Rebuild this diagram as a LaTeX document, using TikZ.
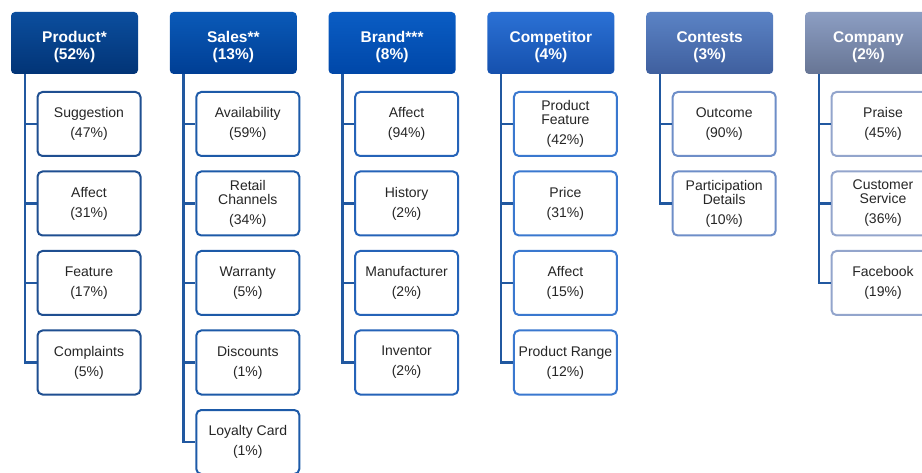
\documentclass[tikz,border=0pt]{standalone}
\usepackage{fontspec}
\setmainfont{Liberation Sans}
\newcommand{\headstrut}{\rule{0pt}{20pt}}
\begin{document}
\begin{tikzpicture}[x=1pt,y=-1pt,
  head/.style={rounded corners=4pt, minimum width=127pt, minimum height=62pt,
    inner sep=0pt, align=center, text=white,
    font=\bfseries\fontsize{15.5}{17}\selectfont},
  leaf/.style={draw, line width=2pt, rounded corners=5pt, fill=white,
    minimum width=103pt, minimum height=64pt, inner sep=0pt, align=center,
    text=black!85, font=\fontsize{14}{14}\selectfont},
  conn/.style={draw=linkblue, line width=2.4pt}]
\definecolor{linkblue}{HTML}{2158A0}
\definecolor{pTop}{HTML}{0B4E9E}\definecolor{pBot}{HTML}{023476}
\definecolor{sTop}{HTML}{0A5AB8}\definecolor{sBot}{HTML}{003E94}
\definecolor{bTop}{HTML}{0A5DC4}\definecolor{bBot}{HTML}{0047A8}
\definecolor{cTop}{HTML}{2B71D5}\definecolor{cBot}{HTML}{1550AD}
\definecolor{tTop}{HTML}{5B83C5}\definecolor{tBot}{HTML}{3F5F9E}
\definecolor{yTop}{HTML}{8C9EC3}\definecolor{yBot}{HTML}{677594}
\definecolor{pEdge}{HTML}{1F4F91}
\definecolor{sEdge}{HTML}{1D5AA8}
\definecolor{bEdge}{HTML}{2563B8}
\definecolor{cEdge}{HTML}{3A78CF}
\definecolor{tEdge}{HTML}{6E8EC8}
\definecolor{yEdge}{HTML}{93A5CC}
\useasboundingbox (0,0) rectangle (922,473);
\clip (0,0) rectangle (922,473);

% headers
\node[head, top color=pTop, bottom color=pBot] (hP) at (74.5,43) {\headstrut Product*\\(52\%)};
\node[head, top color=sTop, bottom color=sBot] (hS) at (233.3,43) {\headstrut Sales**\\(13\%)};
\node[head, top color=bTop, bottom color=bBot] (hB) at (392.1,43) {\headstrut Brand***\\(8\%)};
\node[head, top color=cTop, bottom color=cBot] (hC) at (550.9,43) {\headstrut Competitor\\(4\%)};
\node[head, top color=tTop, bottom color=tBot] (hT) at (709.7,43) {\headstrut Contests\\(3\%)};
\node[head, top color=yTop, bottom color=yBot] (hY) at (868.5,43) {\headstrut Company\\(2\%)};

% Product
\node[leaf, draw=pEdge] (p1) at (89,124) {Suggestion\\[6pt](47\%)};
\node[leaf, draw=pEdge] (p2) at (89,203.5) {Affect\\[6pt](31\%)};
\node[leaf, draw=pEdge] (p3) at (89,283) {Feature\\[6pt](17\%)};
\node[leaf, draw=pEdge] (p4) at (89,362.5) {Complaints\\[6pt](5\%)};
% Sales
\node[leaf, draw=sEdge] (s1) at (247.8,124) {Availability\\[6pt](59\%)};
\node[leaf, draw=sEdge] (s2) at (247.8,203.5) {Retail\\Channels\\[6pt](34\%)};
\node[leaf, draw=sEdge] (s3) at (247.8,283) {Warranty\\[6pt](5\%)};
\node[leaf, draw=sEdge] (s4) at (247.8,362.5) {Discounts\\[6pt](1\%)};
\node[leaf, draw=sEdge] (s5) at (247.8,442) {Loyalty Card\\[6pt](1\%)};
% Brand
\node[leaf, draw=bEdge] (b1) at (406.6,124) {Affect\\[6pt](94\%)};
\node[leaf, draw=bEdge] (b2) at (406.6,203.5) {History\\[6pt](2\%)};
\node[leaf, draw=bEdge] (b3) at (406.6,283) {Manufacturer\\[6pt](2\%)};
\node[leaf, draw=bEdge] (b4) at (406.6,362.5) {Inventor\\[6pt](2\%)};
% Competitor
\node[leaf, draw=cEdge] (c1) at (565.4,124) {Product\\Feature\\[6pt](42\%)};
\node[leaf, draw=cEdge] (c2) at (565.4,203.5) {Price\\[6pt](31\%)};
\node[leaf, draw=cEdge] (c3) at (565.4,283) {Affect\\[6pt](15\%)};
\node[leaf, draw=cEdge] (c4) at (565.4,362.5) {Product Range\\[6pt](12\%)};
% Contests
\node[leaf, draw=tEdge] (t1) at (724.2,124) {Outcome\\[6pt](90\%)};
\node[leaf, draw=tEdge] (t2) at (724.2,203.5) {Participation\\Details\\[6pt](10\%)};
% Company
\node[leaf, draw=yEdge] (y1) at (883,124) {Praise\\[6pt](45\%)};
\node[leaf, draw=yEdge] (y2) at (883,203.5) {Customer\\Service\\[6pt](36\%)};
\node[leaf, draw=yEdge] (y3) at (883,283) {Facebook\\[6pt](19\%)};

% connectors: trunk from each header, branch to each leaf
\foreach \h/\leaves in {hP/{p1,p2,p3,p4}, hS/{s1,s2,s3,s4,s5}, hB/{b1,b2,b3,b4},
                        hC/{c1,c2,c3,c4}, hT/{t1,t2}, hY/{y1,y2,y3}}
  \foreach \l in \leaves
    \draw[conn] ([xshift=14pt]\h.south west) |- (\l.west);
\end{tikzpicture}
\end{document}
